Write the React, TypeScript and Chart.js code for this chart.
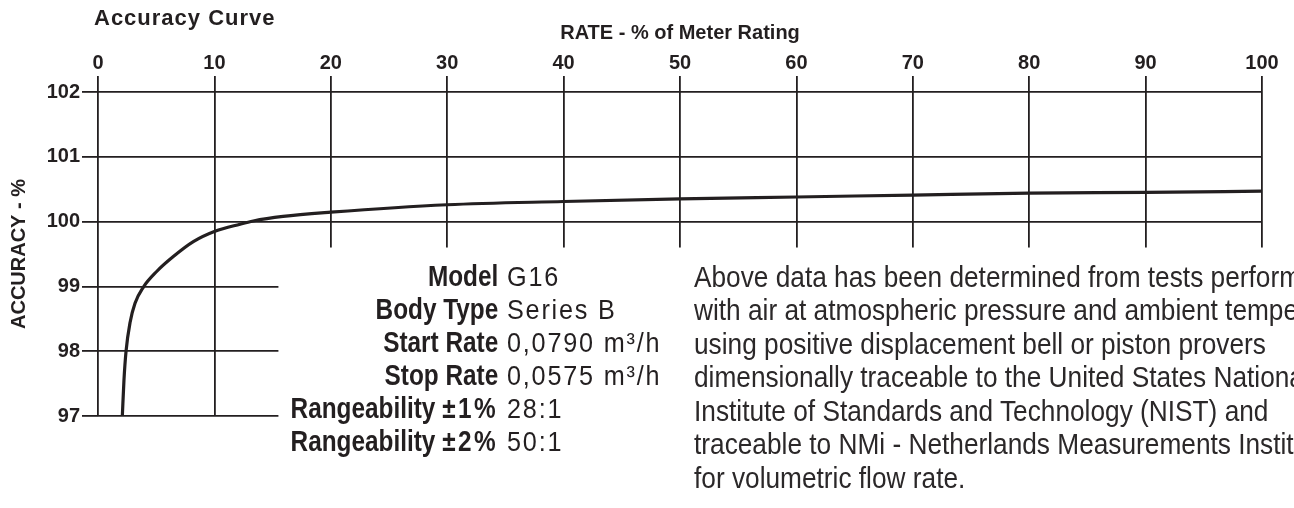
import React, { useEffect, useRef } from "react";
import { Chart, registerables } from "chart.js";

Chart.register(...registerables);

// ---- data ----
const rateValues = [2.09, 2.23, 2.41, 2.75, 3.18, 3.9, 5.04, 6.47, 8.19, 10.05, 12.2, 13.34, 15.9, 20, 30, 40, 50, 60, 70, 80, 90, 100];
const accuracyValues = [97, 97.55, 98, 98.44, 98.74, 98.99, 99.23, 99.46, 99.69, 99.85, 99.96, 100.01, 100.08, 100.145, 100.26, 100.31, 100.35, 100.38, 100.41, 100.44, 100.45, 100.47];
const rateTicks = [0, 10, 20, 30, 40, 50, 60, 70, 80, 90, 100];
const accuracyTicks = [97, 98, 99, 100, 101, 102];

const specLabels = ["Model", "Body Type", "Start Rate", "Stop Rate", "Rangeability", "Rangeability"];
const specLabelSuffixes = ["", "", "", "", "±1%", "±2%"];
const specValues = ["G16", "Series B", "0,0790 m³/h", "0,0575 m³/h", "28:1", "50:1"];
const noteLines = [
  "Above data has been determined from tests performed",
  "with air at atmospheric pressure and ambient temperature",
  "using positive displacement bell or piston provers",
  "dimensionally traceable to the United States National",
  "Institute of Standards and Technology (NIST) and",
  "traceable to NMi - Netherlands Measurements Institute",
  "for volumetric flow rate.",
];

// layout helpers (not data)
const MASK_FROM_RATE = 15.5;
const MASK_FROM_ACC = 99.6;

const INK = "#231f20";
const SANS = "'Liberation Sans', Arial, Helvetica, sans-serif";

const maskPlugin = {
  id: "maskPlugin",
  beforeDatasetsDraw(chart: any) {
    const { ctx, scales } = chart;
    const left = scales.x.getPixelForValue(MASK_FROM_RATE);
    const top = scales.y.getPixelForValue(MASK_FROM_ACC);
    ctx.save();
    ctx.fillStyle = "#ffffff";
    ctx.fillRect(left, top, chart.width - left, chart.height - top);
    ctx.restore();
  },
};

export default function App() {
  const canvasRef = useRef<HTMLCanvasElement | null>(null);

  useEffect(() => {
    if (!canvasRef.current) return;
    const tickFont = { family: SANS, weight: "bold" as const, size: 20 };
    const chart = new Chart(canvasRef.current, {
      type: "line",
      data: {
        datasets: [
          {
            data: rateValues.map((r, i) => ({ x: r, y: accuracyValues[i] })),
            borderColor: INK,
            borderWidth: 3.2,
            pointRadius: 0,
            fill: false,
            cubicInterpolationMode: "monotone",
          },
        ],
      },
      options: {
        animation: false,
        responsive: false,
        maintainAspectRatio: false,
        layout: { padding: { left: 0, right: 32, top: 0, bottom: 92 } },
        plugins: {
          legend: { display: false },
          tooltip: { enabled: false },
          title: { display: false },
        },
        scales: {
          x: {
            type: "linear",
            position: "top",
            min: 0,
            max: 100,
            afterBuildTicks: (s: any) => {
              s.ticks = rateTicks.map((v) => ({ value: v }));
            },
            afterFit: (s: any) => {
              s.height = 92;
            },
            ticks: { color: INK, font: tickFont, padding: 1, maxRotation: 0, autoSkip: false },
            grid: { color: INK, lineWidth: 1.8, tickLength: 16 },
            border: { display: false },
            title: {
              display: true,
              text: "RATE - % of Meter Rating",
              color: INK,
              font: { family: SANS, weight: "bold", size: 20 },
              padding: { top: 21, bottom: 0 },
            },
          },
          y: {
            type: "linear",
            min: 97,
            max: 102,
            afterBuildTicks: (s: any) => {
              s.ticks = accuracyTicks.map((v) => ({ value: v }));
            },
            afterFit: (s: any) => {
              s.width = 98;
            },
            ticks: { color: INK, font: tickFont, padding: 2 },
            grid: { color: INK, lineWidth: 1.8, tickLength: 16 },
            border: { display: false },
            title: {
              display: true,
              text: "ACCURACY - %",
              color: INK,
              font: { family: SANS, weight: "bold", size: 20 },
              padding: { top: 7, bottom: 0 },
            },
          },
        },
      },
      plugins: [maskPlugin],
    } as any);
    return () => chart.destroy();
  }, []);

  const block = {
    position: "absolute" as const,
    fontFamily: SANS,
    color: INK,
    whiteSpace: "nowrap" as const,
    lineHeight: "33px",
  };

  return (
    <div
      style={{
        position: "fixed",
        left: 0,
        top: 0,
        width: 1294,
        height: 508,
        overflow: "hidden",
        background: "#fff",
      }}
    >
      <canvas
        ref={canvasRef}
        width={1294}
        height={508}
        style={{ position: "absolute", left: 0, top: 0, width: 1294, height: 508 }}
      />
      <div
        style={{
          position: "absolute",
          left: 94,
          top: 7,
          fontFamily: SANS,
          fontWeight: "bold",
          fontSize: 22,
          lineHeight: 1,
          letterSpacing: 1,
          color: INK,
          whiteSpace: "nowrap",
        }}
      >
        Accuracy Curve
      </div>
      <div
        style={{
          ...block,
          right: 1294 - 498,
          top: 259.5,
          fontWeight: "bold",
          fontSize: 29,
          textAlign: "right",
          transform: "scaleX(0.84)",
          transformOrigin: "right top",
        }}
      >
        {specLabels.map((t, i) => (
          <div key={i}>
            {t}
            {specLabelSuffixes[i] ? (
              <span style={{ marginLeft: 8, letterSpacing: 3 }}>{specLabelSuffixes[i]}</span>
            ) : null}
          </div>
        ))}
      </div>
      <div
        style={{
          ...block,
          left: 507,
          top: 259.8,
          fontWeight: "normal",
          fontSize: 28,
          letterSpacing: 2,
          transform: "scaleX(0.9)",
          transformOrigin: "left top",
        }}
      >
        {specValues.map((t) => (
          <div key={t}>{t}</div>
        ))}
      </div>
      <div
        style={{
          ...block,
          left: 694,
          top: 259.5,
          lineHeight: "33.5px",
          fontWeight: "normal",
          fontSize: 30,
          color: "#2b2829",
          transform: "scaleX(0.875)",
          transformOrigin: "left top",
        }}
      >
        {noteLines.map((t) => (
          <div key={t}>{t}</div>
        ))}
      </div>
    </div>
  );
}
